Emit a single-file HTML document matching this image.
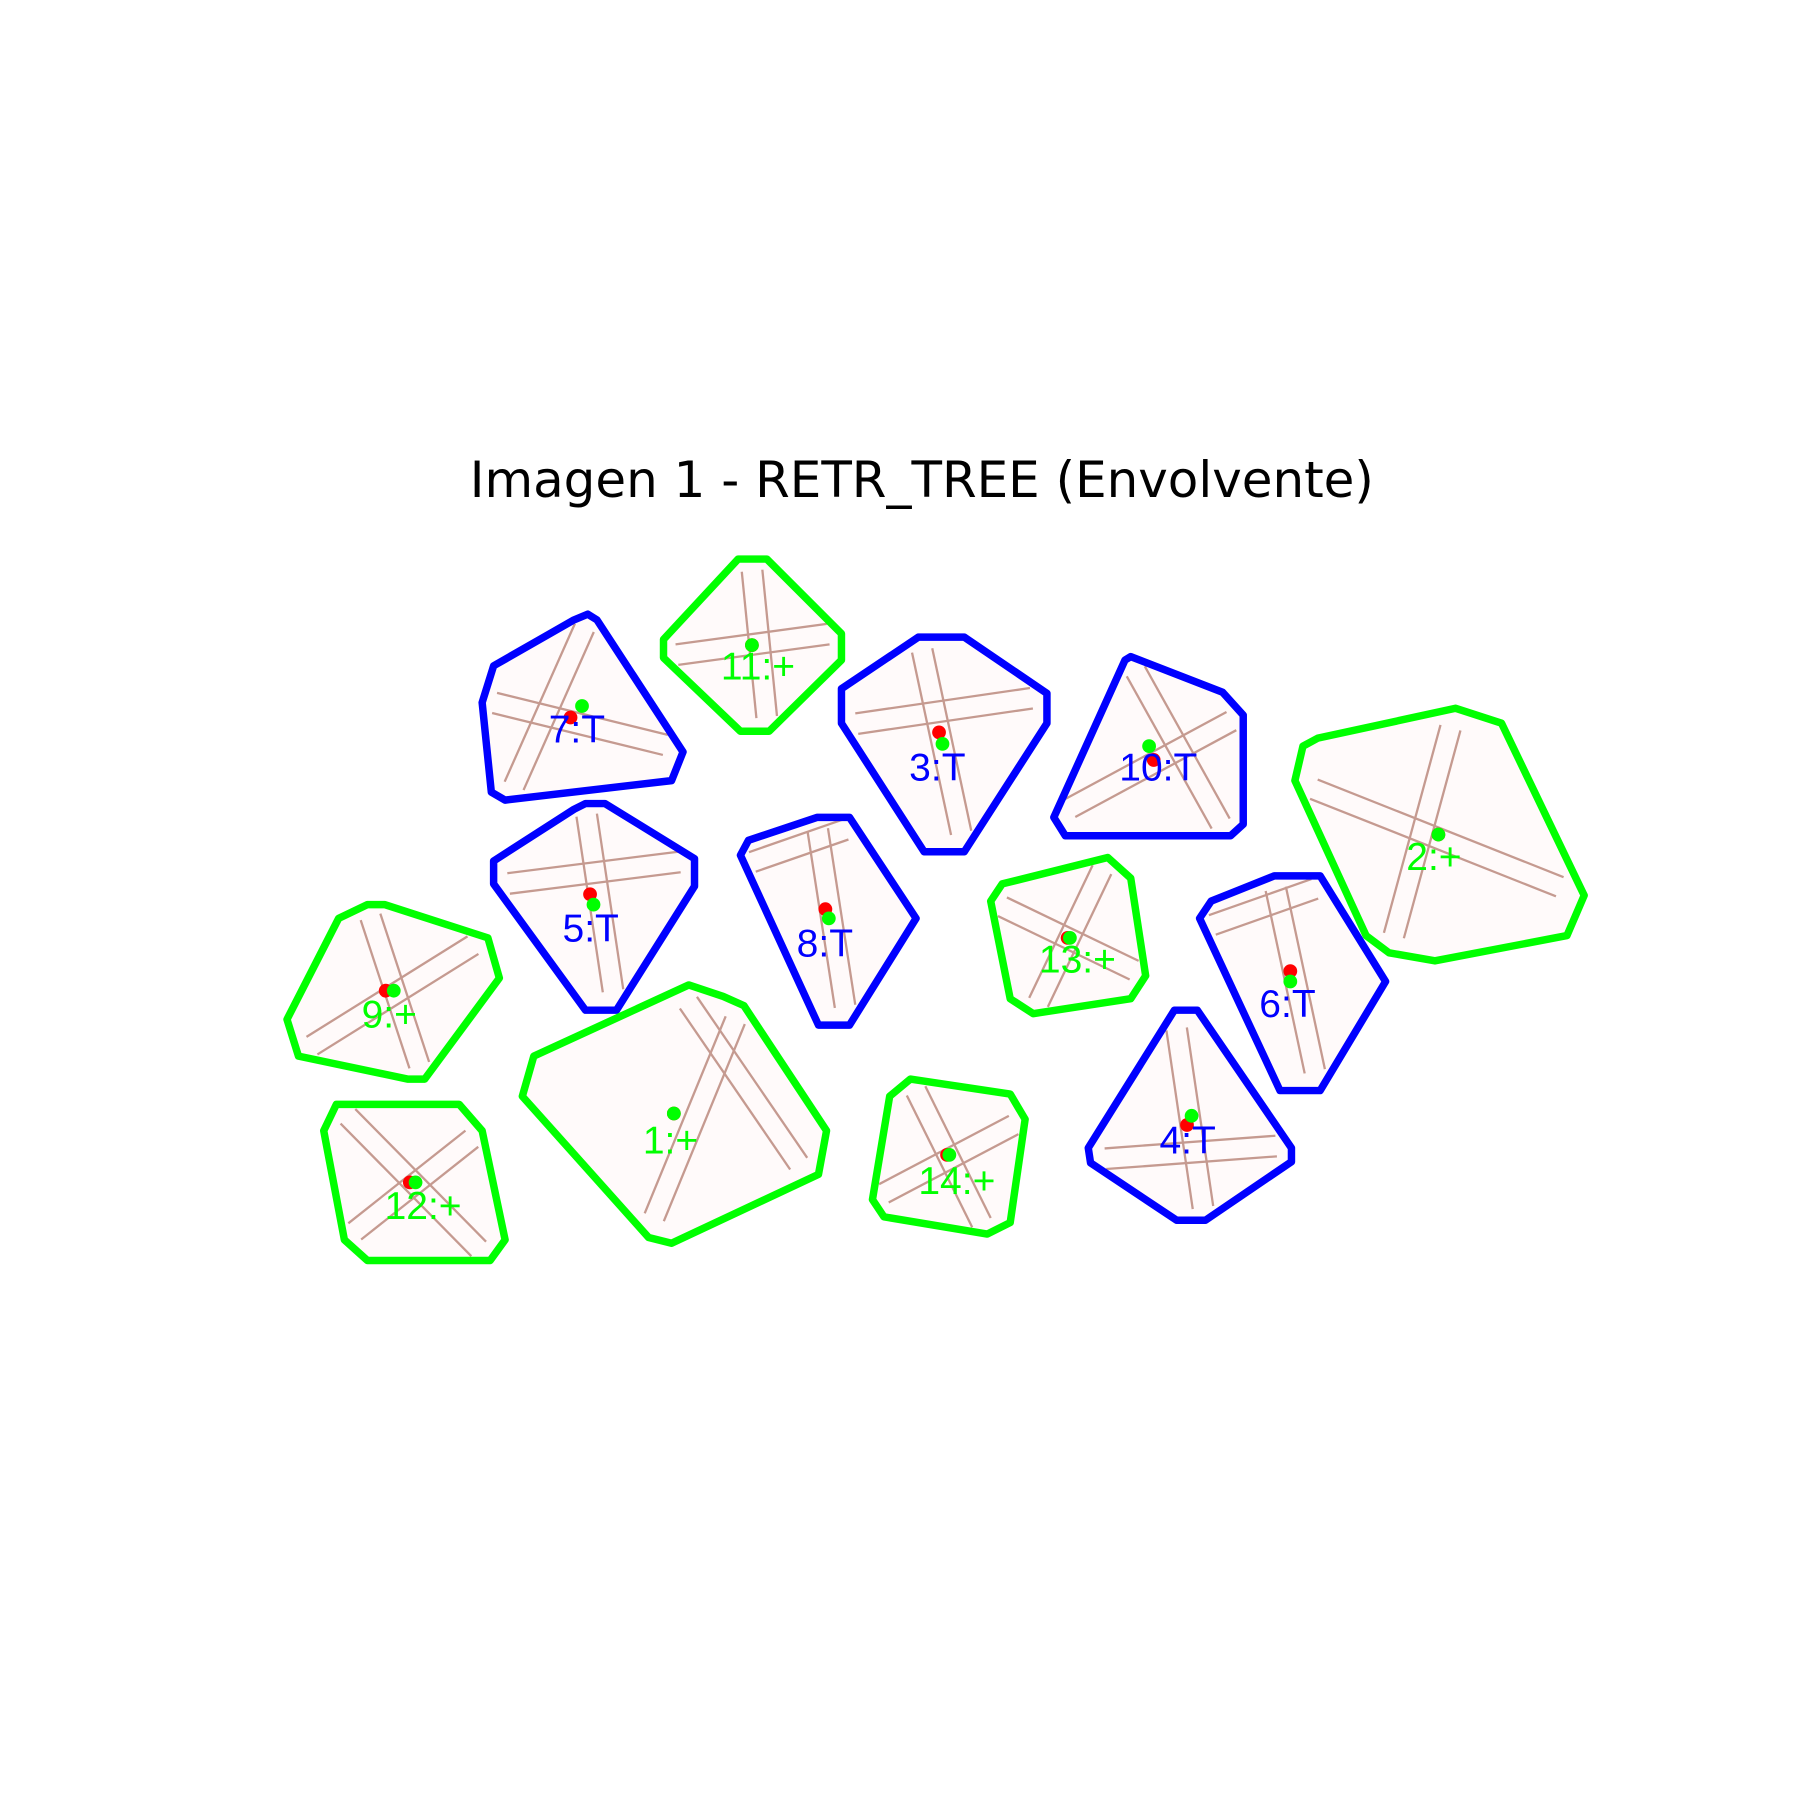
<!DOCTYPE html>
<html><head><meta charset="utf-8"><style>
html,body{margin:0;padding:0;background:#fff;width:1800px;height:1800px;overflow:hidden}
svg{display:block}
</style></head><body>
<svg id="chart" width="1800" height="1800" viewBox="0 0 1568 1568" xmlns="http://www.w3.org/2000/svg">
<rect x="0" y="0" width="1568" height="1568" fill="#fff"/>
<text x="803" y="433" text-anchor="middle" font-family="DejaVu Sans, Liberation Sans, sans-serif" font-size="43.5" fill="#000">Imagen 1 - RETR_TREE (Envolvente)</text>
<g id="shapes"></g>
</svg>
<script>
const ids = ["11","7","3","10","2","5","8","13","6","9","1","12","14","4"];
const kinds = ["+","T","T","T","+","T","T","+","T","+","+","+","+","T"];
const hulls = [
 [[655,487],[668,487],[733,552],[733,575],[670,637],[645,637],[578,573],[578,557],[643,487]],
 [[512,535],[520,540],[595,655],[585,680],[440,697],[428,690],[420,612],[430,580],[500,540]],
 [[800,555],[840,555],[912,604],[912,630],[840,742],[805,742],[733,630],[733,600]],
 [[985,572],[1065,603],[1083,623],[1083,718],[1072,728],[928,728],[918,712],[980,575]],
 [[1268,617],[1308,630],[1380,780],[1365,815],[1250,837],[1210,830],[1190,815],[1128,680],[1135,650],[1148,643]],
 [[510,700],[527,700],[605,748],[605,772],[537,880],[510,880],[430,770],[430,750],[500,705]],
 [[712,712],[740,712],[798,800],[740,893],[713,893],[645,745],[652,732]],
 [[965,747],[985,765],[998,850],[985,870],[900,883],[880,870],[863,785],[873,770]],
 [[1110,763],[1150,763],[1207,855],[1150,950],[1115,950],[1045,800],[1055,785]],
 [[320,788],[335,788],[425,817],[435,852],[370,940],[355,940],[260,920],[250,888],[295,800]],
 [[600,858],[630,868],[648,876],[720,985],[713,1023],[585,1083],[565,1078],[455,955],[465,920]],
 [[293,962],[400,962],[420,985],[440,1080],[427,1098],[320,1098],[300,1080],[282,985]],
 [[793,940],[880,953],[893,975],[880,1065],[860,1075],[770,1060],[760,1045],[775,955]],
 [[1023,880],[1043,880],[1125,1000],[1125,1012],[1050,1063],[1025,1063],[950,1013],[948,1000]]
];
const redPts = [[655,562],[497,625],[818,638],[1005,662],[1253,727],[514,779],[719,792],[930,817],[1124,846],[336,863],[587,970],[357,1030],[825,1006],[1034,980]];
const greenPts = [[655,562],[507,615],[821,648],[1001,650],[1253,727],[517,788],[722,800],[932,817],[1124,855],[343,863],[587,970],[362,1030],[827,1006],[1038,972]];
const labelPts = [[628,592],[478,647],[792,680],[975,680],[1225,758],[490,820],[694,833],[905,847],[1097,886],[315,895],[560,1005],[335,1062],[800,1040],[1010,1005]];

const NS = "http://www.w3.org/2000/svg";
const g = document.getElementById("shapes");
function mk(tag, attrs){ const e=document.createElementNS(NS,tag); for(const k in attrs) e.setAttribute(k,attrs[k]); return e; }

hulls.forEach((h,i)=>{
  const pts = h.map(p=>p.join(",")).join(" ");
  const fill = mk("polygon",{points:pts,fill:"#fffafa"});
  
  
  g.appendChild(fill);
  let cx=0,cy=0; h.forEach(p=>{cx+=p[0];cy+=p[1];}); cx/=h.length; cy/=h.length;
  const n=h.length;
  const a=h[0], b=h[Math.floor(n/2)], c=h[Math.floor(n/4)], d=h[Math.floor(3*n/4)];
  [[a,b],[c,d]].forEach((seg,k)=>{
    [-9,9].forEach(off=>{
      const dx=seg[1][0]-seg[0][0], dy=seg[1][1]-seg[0][1], L=Math.hypot(dx,dy)||1;
      const ox=-dy/L*off, oy=dx/L*off;
      const ln = mk("line",{x1:seg[0][0]*0.85+cx*0.15+ox,y1:seg[0][1]*0.85+cy*0.15+oy,x2:seg[1][0]*0.85+cx*0.15+ox,y2:seg[1][1]*0.85+cy*0.15+oy,stroke:"#c59a90","stroke-width":2});
      
      
      g.appendChild(ln);
    });
  });
  const col = kinds[i]==="T" ? "#0000ff" : "#00ff00";
  const poly = mk("polygon",{points:pts,fill:"none",stroke:col,"stroke-width":6.5,"stroke-linejoin":"round"});
  
  
  g.appendChild(poly);
  const r = mk("circle",{cx:redPts[i][0],cy:redPts[i][1],r:6,fill:"#ff0000"});
  
  
  g.appendChild(r);
  const gr = mk("circle",{cx:greenPts[i][0],cy:greenPts[i][1],r:6,fill:"#00ff00"});
  
  
  g.appendChild(gr);
  const t = mk("text",{x:labelPts[i][0],y:labelPts[i][1],fill:col,"font-family":"Liberation Sans, sans-serif","font-size":34});
  t.textContent = ids[i]+":"+kinds[i];
  
  
  g.appendChild(t);
});
</script>
</body></html>
